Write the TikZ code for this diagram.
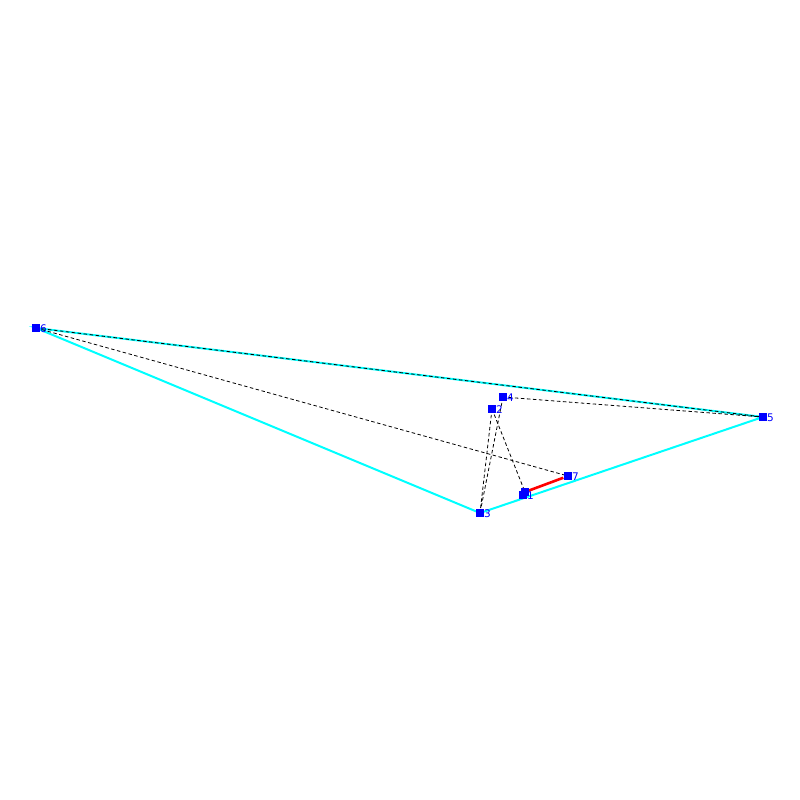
\documentclass[tikz,border=0pt]{standalone}
\usepackage{fontspec}
\setsansfont{DejaVu Sans}
\usetikzlibrary{calc,positioning}
\definecolor{hullcyan}{RGB}{0,255,255}

\begin{document}
\begin{tikzpicture}[x=1pt,y=-1pt,
  hull/.style={hullcyan,line width=2pt},
  link/.style={black,line width=0.8pt,dash pattern=on 3.5pt off 2.5pt},
  best/.style={red,line width=2.6pt},
  vtx/.style={fill=blue,inner sep=0pt,minimum size=7.5pt},
  tag/.style={blue,font=\sffamily\fontsize{10.5}{11}\selectfont,inner sep=0pt,anchor=west}]
\useasboundingbox (0,0) rectangle (800,800);
\coordinate (P0) at (525,492);
\coordinate (P1) at (523,495);
\coordinate (P2) at (492,409);
\coordinate (P3) at (480,513);
\coordinate (P4) at (503,397);
\coordinate (P5) at (763,417);
\coordinate (P6) at (36,328);
\coordinate (P7) at (568,476);
% hull
\draw[hull] (P6) -- (P5) -- (P3) -- cycle;
% other edges
\draw[link] (P6) -- (P5);
\draw[link] (P6) -- (P7);
\draw[link] (P4) -- (P5);
\draw[link] (P4) -- (P3);
\draw[link] (P2) -- (P3);
\draw[link] (P2) -- (P0);
\draw[best] (P0) -- ($(P7)!5pt!(P0)$);
% points
\foreach \i in {0,...,7}
  \node[vtx] (v\i) at (P\i) {};
\foreach \i in {1,...,7}
  \node[tag] at ($(P\i)+(4,0.5)$) {\i};
\end{tikzpicture}
\end{document}
